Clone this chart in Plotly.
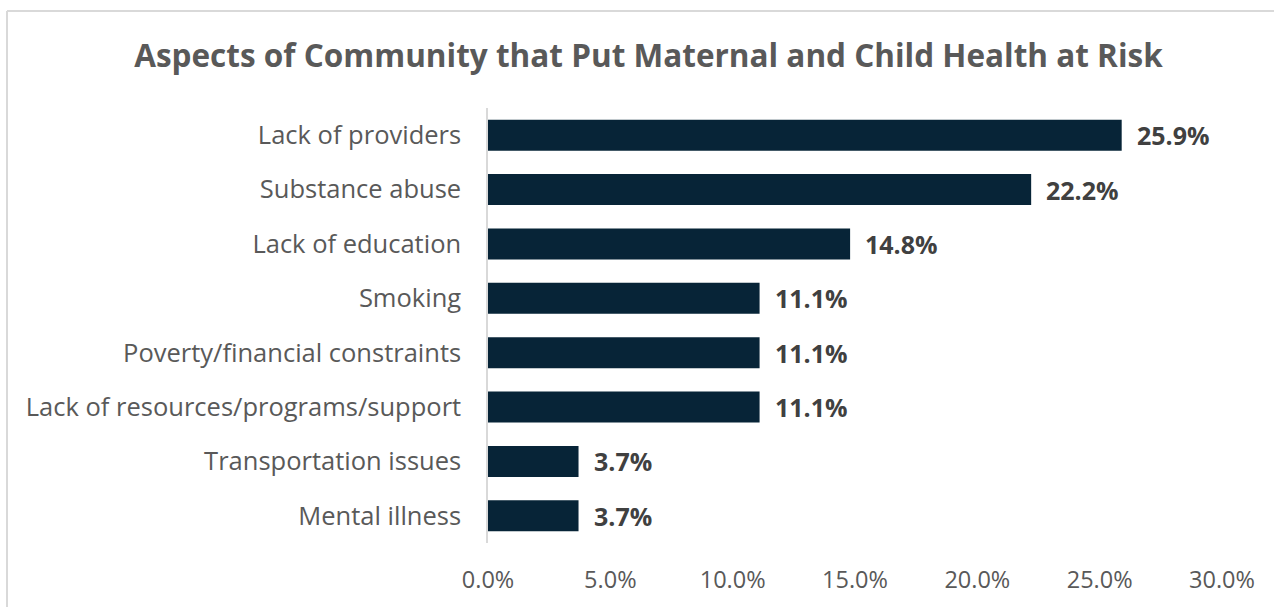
import plotly.graph_objects as go

# Survey responses, listed top to bottom
categories = [
    "Lack of providers",
    "Substance abuse",
    "Lack of education",
    "Smoking",
    "Poverty/financial constraints",
    "Lack of resources/programs/support",
    "Transportation issues",
    "Mental illness",
]
values = [25.9, 22.2, 14.8, 11.1, 11.1, 11.1, 3.7, 3.7]
tick_values = [0, 5, 10, 15, 20, 25, 30]
tick_labels = ["0.0%", "5.0%", "10.0%", "15.0%", "20.0%", "25.0%", "30.0%"]

W, H = 1274, 607
ML, MR, MT, MB = 488, 52, 108, 64
pw, ph = W - ML - MR, H - MT - MB

fig = go.Figure(
    go.Bar(
        x=values,
        y=categories,
        orientation="h",
        marker=dict(color="#072437", line=dict(width=0)),
        width=0.57,
        hoverinfo="x+y",
    )
)

# Value labels just past the end of each bar
for cat, v in zip(categories, values):
    fig.add_annotation(
        x=v, y=cat, xref="x", yref="y",
        text=f"<b>{v:.1f}%</b>",
        showarrow=False,
        xanchor="left", yanchor="middle",
        xshift=13,
        font=dict(family="Open Sans", size=25, color="#404040"),
    )

# Outer chart frame (left and top edges visible)
fx0 = (7 - ML) / pw
fy1 = 1 + (MT - 11) / ph
fig.add_shape(type="line", xref="paper", yref="paper", x0=fx0, x1=fx0,
              y0=-(MB + 5) / ph, y1=fy1, line=dict(color="#d9d9d9", width=2))
fig.add_shape(type="line", xref="paper", yref="paper", x0=fx0, x1=(W - ML + 5) / pw,
              y0=fy1, y1=fy1, line=dict(color="#d9d9d9", width=2))

fig.update_layout(
    width=W,
    height=H,
    margin=dict(l=ML, r=MR, t=MT, b=MB),
    paper_bgcolor="white",
    plot_bgcolor="white",
    showlegend=False,
    title=dict(
        text="<b>Aspects of Community that Put Maternal and Child Health at Risk</b>",
        x=0.509,
        xanchor="center",
        y=1 - 56 / H,
        yanchor="middle",
        font=dict(family="Open Sans", size=31.5, color="#595959"),
    ),
    xaxis=dict(
        range=[0, 30],
        tickvals=tick_values,
        ticktext=tick_labels,
        showgrid=False,
        zeroline=False,
        showline=False,
        ticks="",
        ticklabelstandoff=20,
        tickfont=dict(family="Open Sans", size=23.5, color="#595959"),
    ),
    yaxis=dict(
        categoryorder="array",
        categoryarray=categories[::-1],
        showgrid=False,
        zeroline=False,
        showline=True,
        linecolor="#d9d9d9",
        linewidth=1.5,
        ticks="",
        ticklabelstandoff=20,
        tickfont=dict(family="Open Sans", size=25.5, color="#595959"),
    ),
)

fig.write_html("out.html")
